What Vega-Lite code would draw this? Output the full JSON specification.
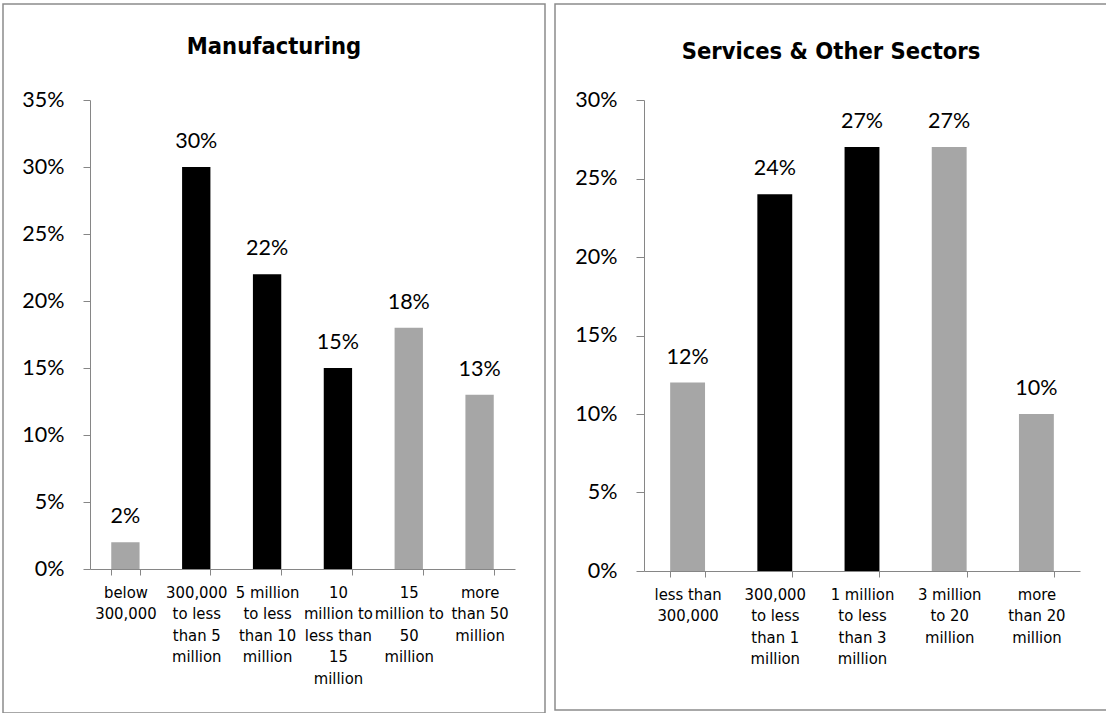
{
  "$schema": "https://vega.github.io/schema/vega-lite/v6.json",
  "padding": {"left": 2, "top": 3, "right": 0, "bottom": 0},
  "spacing": 8,
  "config": {
    "view": {"stroke": "#8c8c8c", "strokeWidth": 1.5},
    "axis": {"grid": false, "domainColor": "#868686", "tickColor": "#868686", "labelColor": "#000000", "title": null}
  },
  "datasets": {
    "manufacturing": [
      {"category": "below|300,000", "share": 0.02, "group": "gray"},
      {"category": "300,000|to less|than 5|million", "share": 0.30, "group": "black"},
      {"category": "5 million|to less|than 10|million", "share": 0.22, "group": "black"},
      {"category": "10|million to|less than|15|million", "share": 0.15, "group": "black"},
      {"category": "15|million to|50|million", "share": 0.18, "group": "gray"},
      {"category": "more|than 50|million", "share": 0.13, "group": "gray"}
    ],
    "services": [
      {"category": "less than|300,000", "share": 0.12, "group": "gray"},
      {"category": "300,000|to less|than 1|million", "share": 0.24, "group": "black"},
      {"category": "1 million|to less|than 3|million", "share": 0.27, "group": "black"},
      {"category": "3 million|to 20|million", "share": 0.27, "group": "gray"},
      {"category": "more|than 20|million", "share": 0.10, "group": "gray"}
    ]
  },
  "hconcat": [
    {
      "width": 542,
      "height": 709,
      "title": {"text": "Manufacturing", "font": "Liberation Sans Narrow, Arial Narrow, DejaVu Sans Condensed, Liberation Sans, sans-serif", "fontSize": 23.5, "fontWeight": "bold", "color": "#000000", "anchor": "middle", "baseline": "middle", "offset": -66},
      "data": {"name": "manufacturing"},
      "encoding": {
        "x": {
          "field": "category", "type": "nominal", "sort": null,
          "scale": {"range": [87, 512], "paddingInner": 0.6, "paddingOuter": 0.3},
          "axis": {"labelAngle": 0, "labelExpr": "isValid(datum.value) ? split(datum.value, '|') : ''", "labelFont": "Liberation Sans Narrow, Arial Narrow, DejaVu Sans Condensed, Liberation Sans, sans-serif", "labelFontSize": 16.5, "labelLineHeight": 21.5, "labelPadding": 9, "tickSize": 6, "tickBand": "extent", "offset": -144, "labelBaseline": "top"}
        },
        "y": {
          "field": "share", "type": "quantitative",
          "scale": {"domain": [0, 0.35], "range": [565, 96], "nice": false},
          "axis": {"values": [0, 0.05, 0.1, 0.15, 0.2, 0.25, 0.3, 0.35], "format": ".0%", "labelFont": "Lato", "labelFontSize": 21.5, "labelPadding": 19, "tickSize": 7, "offset": -87}
        }
      },
      "layer": [
        {
          "mark": {"type": "bar"},
          "encoding": {
            "color": {"field": "group", "type": "nominal", "scale": {"domain": ["gray", "black"], "range": ["#a6a6a6", "#000000"]}, "legend": null}
          }
        },
        {
          "mark": {"type": "text", "baseline": "alphabetic", "dy": -19, "font": "Lato", "fontSize": 21.5, "color": "#000000"},
          "encoding": {"text": {"field": "share", "type": "quantitative", "format": ".0%"}}
        }
      ]
    },
    {
      "width": 552,
      "height": 706,
      "title": {"text": "Services & Other Sectors", "font": "Liberation Sans Narrow, Arial Narrow, DejaVu Sans Condensed, Liberation Sans, sans-serif", "fontSize": 23.5, "fontWeight": "bold", "color": "#000000", "anchor": "middle", "baseline": "middle", "offset": -71},
      "data": {"name": "services"},
      "encoding": {
        "x": {
          "field": "category", "type": "nominal", "sort": null,
          "scale": {"range": [89, 525], "paddingInner": 0.6, "paddingOuter": 0.3},
          "axis": {"labelAngle": 0, "labelExpr": "isValid(datum.value) ? split(datum.value, '|') : ''", "labelFont": "Liberation Sans Narrow, Arial Narrow, DejaVu Sans Condensed, Liberation Sans, sans-serif", "labelFontSize": 16.5, "labelLineHeight": 21.5, "labelPadding": 9, "tickSize": 6, "tickBand": "extent", "offset": -139, "labelBaseline": "top"}
        },
        "y": {
          "field": "share", "type": "quantitative",
          "scale": {"domain": [0, 0.30], "range": [567, 96], "nice": false},
          "axis": {"values": [0, 0.05, 0.1, 0.15, 0.2, 0.25, 0.3], "format": ".0%", "labelFont": "Lato", "labelFontSize": 21.5, "labelPadding": 19, "tickSize": 8, "offset": -89}
        }
      },
      "layer": [
        {
          "mark": {"type": "bar"},
          "encoding": {
            "color": {"field": "group", "type": "nominal", "scale": {"domain": ["gray", "black"], "range": ["#a6a6a6", "#000000"]}, "legend": null}
          }
        },
        {
          "mark": {"type": "text", "baseline": "alphabetic", "dy": -19, "font": "Lato", "fontSize": 21.5, "color": "#000000"},
          "encoding": {"text": {"field": "share", "type": "quantitative", "format": ".0%"}}
        }
      ]
    }
  ],
  "resolve": {"scale": {"color": "independent"}}
}
